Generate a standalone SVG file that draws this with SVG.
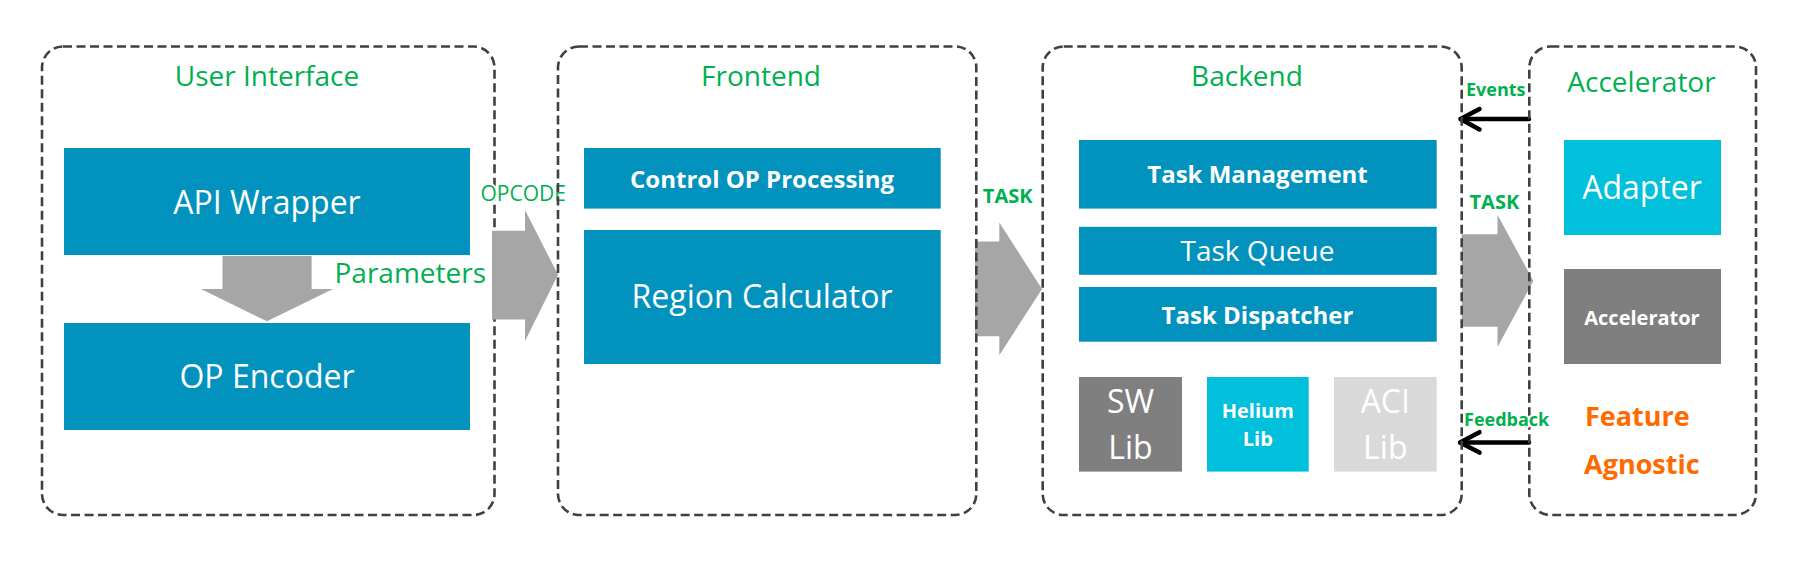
<svg xmlns="http://www.w3.org/2000/svg" width="1816" height="561" viewBox="0 0 1816 561">
<style>
.bg{fill:#ffffff}
.cont{fill:none;stroke:#404040;stroke-width:2.6;stroke-dasharray:9 4.5}
.title{font-family:"Open Sans","Liberation Sans",sans-serif;font-size:28px;fill:#00b050;text-anchor:middle}
.blue{fill:#0292be}
.cyan{fill:#00c0dc}
.dgray{fill:#7f7f7f}
.lgray{fill:#d9d9d9}
.t{font-family:"Open Sans","Liberation Sans",sans-serif;fill:#ffffff;text-anchor:middle}
.big{font-size:32px}
.mid{font-size:28px}
.b{font-weight:700}
.lbl{font-family:"Open Sans","Liberation Sans",sans-serif;fill:#00b050}
.halo{paint-order:stroke;stroke:#ffffff;stroke-width:4;stroke-linejoin:round}
.fat{fill:#a6a6a6}
.blk{fill:none;stroke:#000000;stroke-width:4.5;stroke-linecap:round;stroke-linejoin:round}
.orange{font-family:"Open Sans","Liberation Sans",sans-serif;font-weight:700;font-size:27px;fill:#ff6a00}
</style>
<rect class="bg" x="0" y="0" width="1816" height="561"/>

<g id="user-interface">
  <rect class="cont" x="42" y="46.5" width="452.5" height="468.5" rx="21"/>
  <text class="title" x="267" y="86">User Interface</text>
</g>
<g id="api-wrapper">
  <rect class="blue" x="64" y="148" width="406" height="107"/>
  <text class="t big" x="267" y="214">API Wrapper</text>
</g>
<g id="op-encoder">
  <rect class="blue" x="64" y="323" width="406" height="107"/>
  <text class="t big" x="267" y="388">OP Encoder</text>
</g>

<g id="connectors">
  <polygon class="fat" points="222.5,256 311.6,256 311.6,289 333,289 267,321.3 201,289 222.5,289"/>
  <polygon class="fat" points="492,230.8 525,230.8 525,210 558,274.8 525,341 525,319.5 492,319.5"/>
  <polygon class="fat" points="975,241.5 999.3,241.5 999.3,222.5 1042,289 999.3,355.3 999.3,336.3 975,336.3"/>
  <polygon class="fat" points="1461.7,234.3 1497.5,234.3 1497.5,214.7 1533.3,280.9 1497.5,347 1497.5,326.7 1461.7,326.7"/>
  <line class="blk" x1="1529" y1="119" x2="1461" y2="119"/>
  <polyline class="blk" points="1479.5,109 1460.5,119 1479.5,129.5"/>
  <line class="blk" x1="1529" y1="442.6" x2="1461" y2="442.6"/>
  <polyline class="blk" points="1479.5,432.2 1460,442.6 1479.5,452.6"/>
  <text class="lbl" x="334.5" y="282.6" font-size="28">Parameters</text>
  <text class="lbl halo" x="480.5" y="201" font-size="21">OPCODE</text>
  <text class="lbl b" x="982.8" y="203" font-size="20">TASK</text>
  <text class="lbl b" x="1469.5" y="209.3" font-size="20">TASK</text>
  <text class="lbl b" x="1466" y="95.9" font-size="18">Events</text>
</g>

<g id="frontend">
  <rect class="cont" x="558" y="46.5" width="418.3" height="468.5" rx="21"/>
  <text class="title" x="761" y="86">Frontend</text>
</g>
<g id="control-op">
  <rect class="blue" x="584" y="148" width="356.7" height="60.6"/>
  <text class="t b" font-size="24" x="762" y="187.8">Control OP Processing</text>
</g>
<g id="region-calc">
  <rect class="blue" x="584" y="230" width="356.7" height="134"/>
  <text class="t big" x="762" y="308.4">Region Calculator</text>
</g>

<g id="backend">
  <rect class="cont" x="1042.7" y="46.5" width="419" height="468.5" rx="21"/>
  <text class="title" x="1247" y="86">Backend</text>
</g>
<g id="task-management">
  <rect class="blue" x="1079" y="140" width="357.7" height="68.6"/>
  <text class="t b" font-size="24" x="1257.5" y="183.2">Task Management</text>
</g>
<g id="task-queue">
  <rect class="blue" x="1079" y="226.8" width="357.7" height="48"/>
  <text class="t mid" x="1257.5" y="261.2">Task Queue</text>
</g>
<g id="task-dispatcher">
  <rect class="blue" x="1079" y="287" width="357.7" height="54.7"/>
  <text class="t b" font-size="24" x="1257.5" y="323.8">Task Dispatcher</text>
</g>
<g id="sw-lib">
  <rect class="dgray" x="1079" y="377" width="103" height="94.6"/>
  <text class="t big" x="1130.5" y="413.2" fill="#f2f2f2">SW</text>
  <text class="t big" x="1130.5" y="458.7" fill="#f2f2f2">Lib</text>
</g>
<g id="helium-lib">
  <rect class="cyan" x="1207" y="377" width="101.7" height="94.6"/>
  <text class="t b" font-size="20" x="1257.8" y="418">Helium</text>
  <text class="t b" font-size="20" x="1257.8" y="445.8">Lib</text>
</g>
<g id="aci-lib">
  <rect class="lgray" x="1334" y="377" width="102.7" height="94.6"/>
  <text class="t big" x="1385.3" y="413.2">ACI</text>
  <text class="t big" x="1385.3" y="458.7">Lib</text>
</g>

<g id="accelerator-group">
  <rect class="cont" x="1529.3" y="46.5" width="226.7" height="468.5" rx="21"/>
  <text class="title" x="1641.5" y="92">Accelerator</text>
  <text class="orange" x="1585" y="425.8">Feature</text>
  <text class="orange" x="1584" y="474">Agnostic</text>
</g>
<g id="adapter">
  <rect class="cyan" x="1564" y="140" width="157" height="95"/>
  <text class="t big" x="1642" y="198.6">Adapter</text>
</g>
<g id="accelerator">
  <rect class="dgray" x="1564" y="269" width="157" height="95"/>
  <text class="t b" font-size="20" x="1642" y="324.5">Accelerator</text>
</g>
<g id="feedback-label">
  <text class="lbl b halo" x="1464" y="425.8" font-size="18">Feedback</text>
</g>
</svg>
